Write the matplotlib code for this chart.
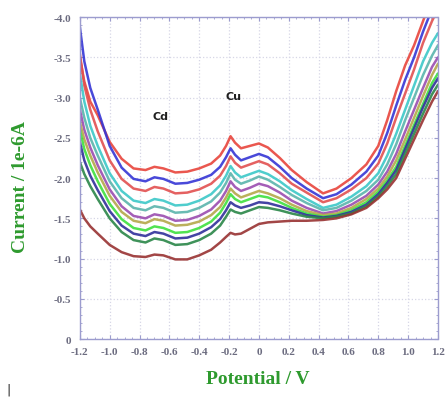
import matplotlib
matplotlib.use("Agg")
import matplotlib.pyplot as plt
from matplotlib.ticker import MultipleLocator

# Potential grid (V)
potential = [-1.2, -1.17, -1.13, -1.08, -1.0, -0.92, -0.84, -0.76, -0.7, -0.64, -0.56, -0.48, -0.4,
             -0.32, -0.26, -0.22, -0.19, -0.16, -0.12, -0.06, 0.0, 0.06, 0.14, 0.22, 0.32, 0.43,
             0.52, 0.62, 0.72, 0.8, 0.86, 0.92, 0.98, 1.04, 1.1, 1.16, 1.2]

# Currents (1e-6 A), top curve to bottom curve
red1 = [-3.50, -3.20, -2.95, -2.78, -2.45, -2.24, -2.12, -2.10, -2.14, -2.12, -2.07, -2.08, -2.12,
        -2.18, -2.28, -2.40, -2.52, -2.44, -2.37, -2.40, -2.43, -2.38, -2.25, -2.10, -1.95, -1.81,
        -1.87, -2.00, -2.17, -2.40, -2.72, -3.08, -3.40, -3.65, -3.95, -4.25, -4.45]
blue2 = [-3.88, -3.45, -3.12, -2.85, -2.40, -2.13, -1.99, -1.96, -2.01, -1.99, -1.93, -1.94, -1.98,
         -2.04, -2.14, -2.26, -2.37, -2.29, -2.22, -2.26, -2.30, -2.26, -2.14, -2.00, -1.87, -1.75,
         -1.80, -1.92, -2.08, -2.28, -2.56, -2.90, -3.22, -3.50, -3.82, -4.10, -4.30]
red3 = [-3.55, -3.15, -2.85, -2.58, -2.22, -1.99, -1.87, -1.84, -1.89, -1.87, -1.81, -1.82, -1.86,
        -1.93, -2.03, -2.15, -2.27, -2.19, -2.13, -2.17, -2.21, -2.17, -2.06, -1.93, -1.82, -1.70,
        -1.75, -1.86, -2.00, -2.18, -2.43, -2.75, -3.05, -3.35, -3.68, -3.95, -4.10]
cyan4 = [-3.30, -2.95, -2.65, -2.40, -2.06, -1.84, -1.72, -1.69, -1.74, -1.72, -1.66, -1.67, -1.72,
         -1.80, -1.91, -2.03, -2.15, -2.07, -2.01, -2.05, -2.09, -2.05, -1.96, -1.85, -1.74, -1.63,
         -1.67, -1.77, -1.90, -2.06, -2.28, -2.55, -2.85, -3.15, -3.45, -3.68, -3.80]
teal5 = [-3.00, -2.75, -2.50, -2.28, -1.96, -1.75, -1.63, -1.60, -1.65, -1.63, -1.57, -1.58, -1.63,
         -1.71, -1.82, -1.94, -2.06, -1.98, -1.93, -1.97, -2.02, -1.98, -1.89, -1.79, -1.69, -1.60,
         -1.63, -1.72, -1.84, -1.98, -2.17, -2.42, -2.72, -3.00, -3.28, -3.52, -3.65]
purple6 = [-2.85, -2.60, -2.38, -2.16, -1.86, -1.65, -1.53, -1.50, -1.55, -1.53, -1.47, -1.48, -1.53,
           -1.61, -1.72, -1.84, -1.96, -1.89, -1.84, -1.88, -1.93, -1.90, -1.82, -1.72, -1.63, -1.56,
           -1.59, -1.67, -1.78, -1.92, -2.08, -2.30, -2.58, -2.85, -3.12, -3.38, -3.50]
olive7 = [-2.70, -2.48, -2.28, -2.07, -1.78, -1.58, -1.47, -1.44, -1.49, -1.47, -1.41, -1.42, -1.46,
          -1.54, -1.64, -1.76, -1.87, -1.81, -1.76, -1.80, -1.84, -1.81, -1.75, -1.67, -1.59, -1.54,
          -1.56, -1.63, -1.74, -1.87, -2.02, -2.22, -2.48, -2.75, -3.02, -3.28, -3.42]
green8 = [-2.60, -2.36, -2.16, -1.96, -1.68, -1.49, -1.38, -1.35, -1.40, -1.38, -1.32, -1.33, -1.38,
          -1.46, -1.57, -1.69, -1.80, -1.74, -1.70, -1.74, -1.78, -1.76, -1.70, -1.63, -1.56, -1.52,
          -1.54, -1.60, -1.70, -1.83, -1.97, -2.14, -2.40, -2.66, -2.92, -3.18, -3.30]
navy9 = [-2.45, -2.22, -2.03, -1.85, -1.59, -1.41, -1.31, -1.28, -1.33, -1.31, -1.25, -1.26, -1.31,
         -1.39, -1.49, -1.60, -1.70, -1.66, -1.63, -1.66, -1.70, -1.69, -1.65, -1.60, -1.54, -1.51,
         -1.53, -1.58, -1.67, -1.80, -1.94, -2.10, -2.36, -2.62, -2.88, -3.12, -3.24]
dkgreen10 = [-2.20, -2.05, -1.90, -1.74, -1.50, -1.33, -1.23, -1.20, -1.25, -1.23, -1.17, -1.18, -1.23,
             -1.31, -1.41, -1.52, -1.61, -1.58, -1.56, -1.60, -1.64, -1.63, -1.60, -1.56, -1.52, -1.50,
             -1.52, -1.56, -1.65, -1.77, -1.90, -2.05, -2.30, -2.55, -2.80, -3.04, -3.16]
brown11 = [-1.61, -1.50, -1.40, -1.31, -1.17, -1.08, -1.03, -1.02, -1.05, -1.04, -0.99, -0.99, -1.04,
           -1.11, -1.20, -1.27, -1.32, -1.30, -1.31, -1.37, -1.43, -1.45, -1.46, -1.47, -1.47, -1.48,
           -1.50, -1.55, -1.63, -1.75, -1.86, -2.00, -2.24, -2.48, -2.72, -2.95, -3.08]

series = [red1, blue2, red3, cyan4, teal5, purple6, olive7, green8, navy9, dkgreen10, brown11]
colors = ["#e8453c", "#3535d5", "#e25050", "#3cc8c8", "#5ab4ac", "#9a4cb0",
          "#b4a84a", "#3ee03e", "#30309a", "#2a8648", "#983232"]

x_ticks = [-1.2, -1.0, -0.8, -0.6, -0.4, -0.2, 0.0, 0.2, 0.4, 0.6, 0.8, 1.0, 1.2]
x_labels = ["-1.2", "-1.0", "-0.8", "-0.6", "-0.4", "-0.2", "0", "0.2", "0.4", "0.6", "0.8", "1.0", "1.2"]
y_ticks = [-4.0, -3.5, -3.0, -2.5, -2.0, -1.5, -1.0, -0.5, 0.0]
y_labels = ["-4.0", "-3.5", "-3.0", "-2.5", "-2.0", "-1.5", "-1.0", "-0.5", "0"]

fig = plt.figure(figsize=(4.46, 4.02), dpi=100)
ax = fig.add_axes([0.179, 0.154, 0.803, 0.801])

for vals, c in zip(series, colors):
    ax.plot(potential, vals, color=c, lw=1.8, alpha=0.9,
            solid_joinstyle="round", solid_capstyle="round")

ax.set_xlim(-1.2, 1.2)
ax.set_ylim(0, -4.0)
ax.set_xticks(x_ticks)
ax.set_xticklabels(x_labels)
ax.set_yticks(y_ticks)
ax.set_yticklabels(y_labels)
ax.xaxis.set_minor_locator(MultipleLocator(0.05))
ax.yaxis.set_minor_locator(MultipleLocator(0.1))

ax.grid(True, which="major", color="#d6d6e6", linestyle=":", linewidth=0.9)
spine_c = "#9c9cce"
for s in ax.spines.values():
    s.set_color(spine_c)
    s.set_linewidth(1.0)
    s.set_linestyle((0, (2, 1)))
ax.tick_params(axis="both", which="both", direction="in", colors=spine_c,
               top=True, right=True, labelcolor="#6c6c80", labelsize=8)
ax.tick_params(axis="both", which="major", length=3, pad=6)
ax.tick_params(axis="both", which="minor", length=1.5)
for lab in ax.get_xticklabels() + ax.get_yticklabels():
    lab.set_family("Liberation Serif")
    lab.set_fontweight("bold")

ax.text(-0.66, -2.77, "Cd", fontsize=8, fontweight="bold", color="#202020", ha="center", va="center")
ax.text(-0.17, -3.02, "Cu", fontsize=8, fontweight="bold", color="#202020", ha="center", va="center")

fig.text(0.047, 0.535, "Current / 1e-6A", rotation=90, color="#2e9a2e", fontsize=14,
         fontweight="bold", family="Liberation Serif", ha="center", va="center")
fig.text(0.578, 0.055, "Potential / V", color="#2e9a2e", fontsize=14,
         fontweight="bold", family="Liberation Serif", ha="center", va="center")
fig.text(0.018, 0.03, "|", color="#202020", fontsize=9, ha="center", va="center")

fig.savefig("out.png", dpi=100)
